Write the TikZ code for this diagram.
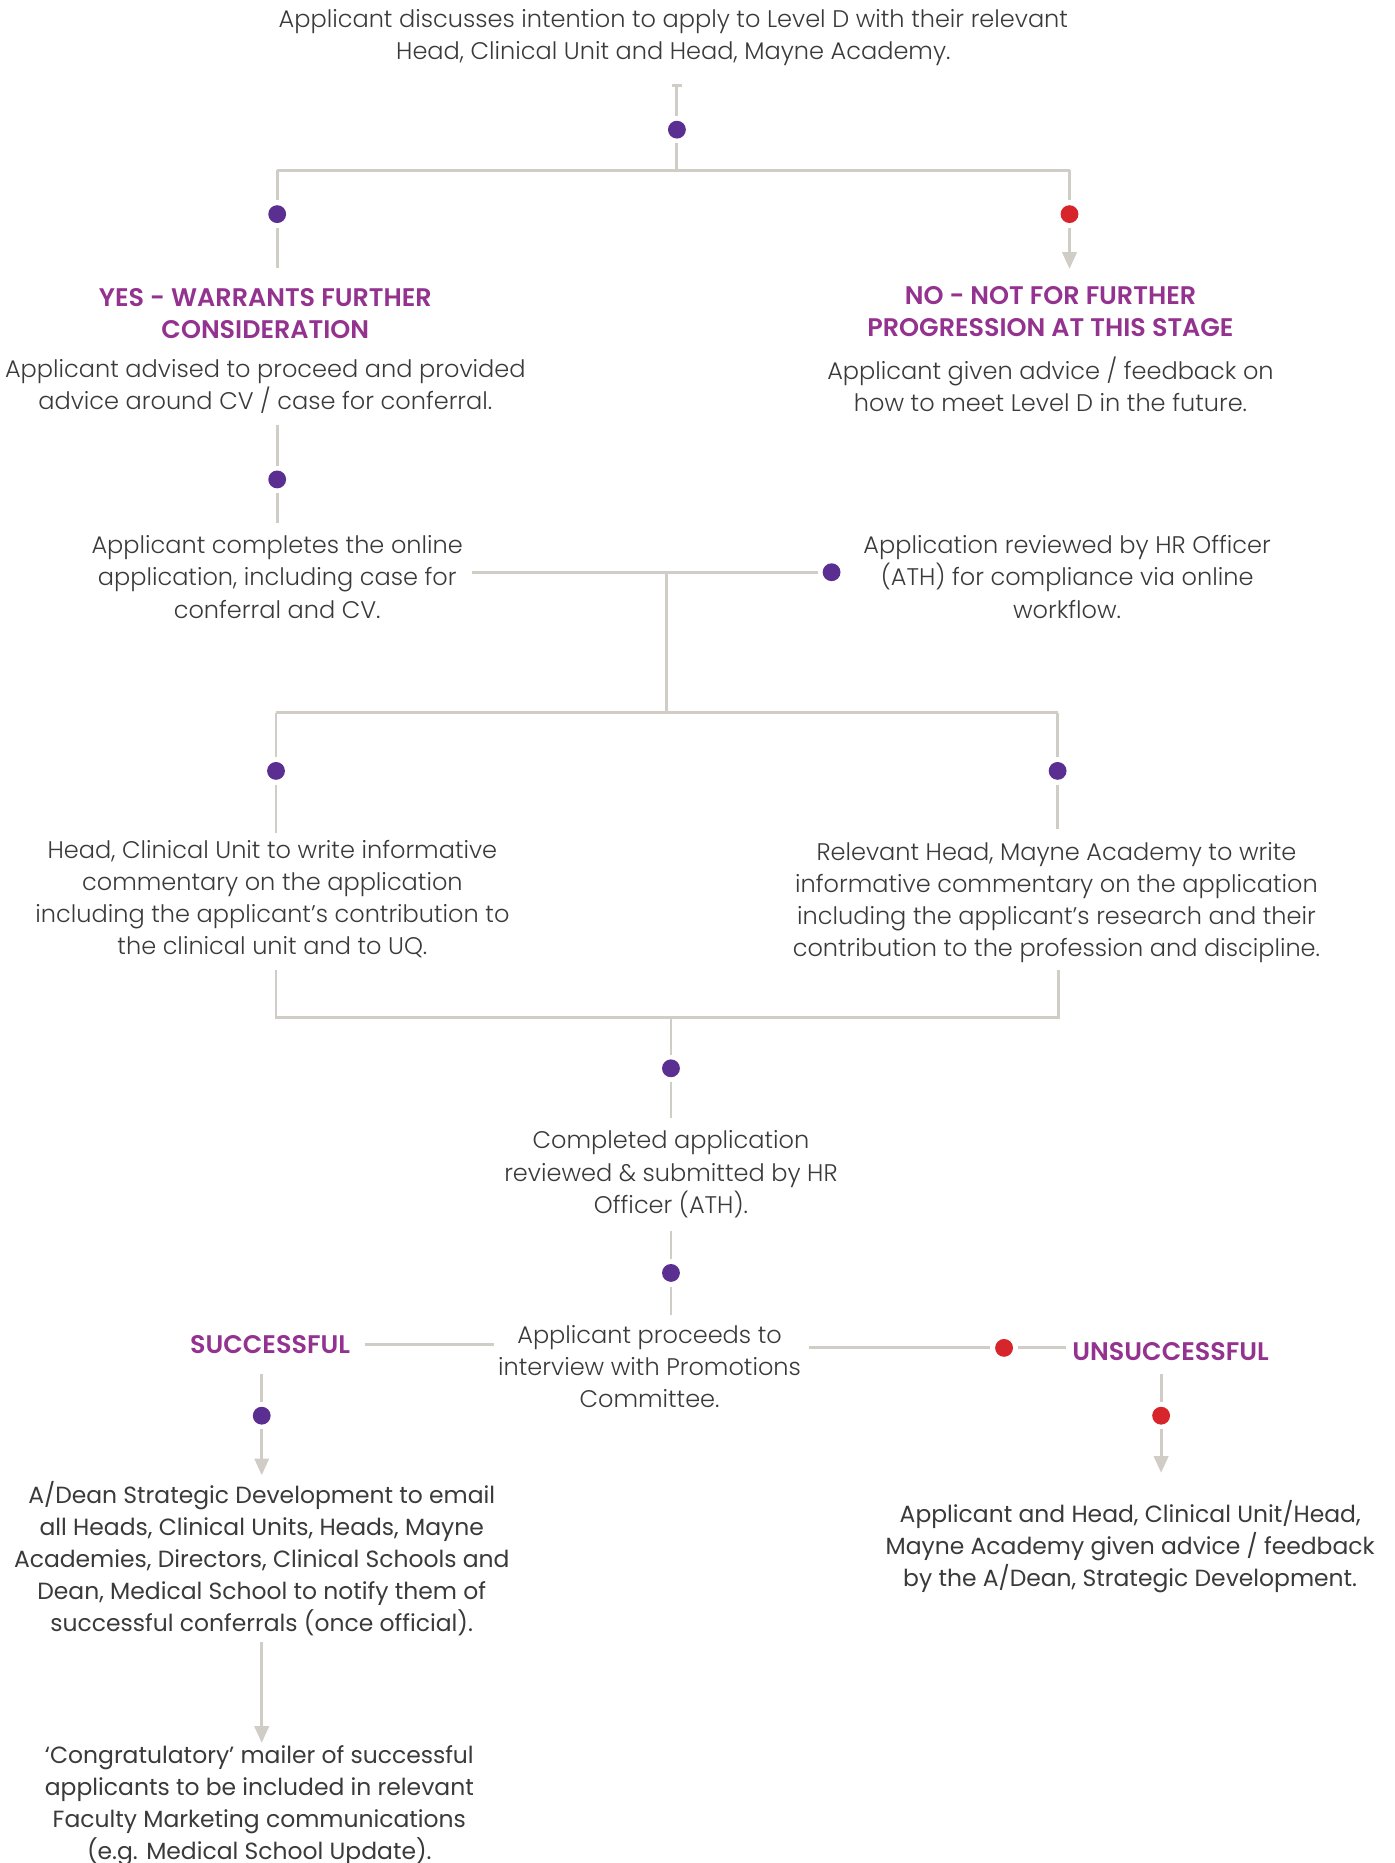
\documentclass[tikz,border=0pt]{standalone}
\usepackage{fontspec}
\setmainfont{Poppins Light}
\newfontfamily\headfont{Poppins SemiBold}
\newfontfamily\bookfont{Poppins}
\usetikzlibrary{arrows.meta}
\definecolor{linegray}{HTML}{D0CCC6}
\definecolor{dotpurple}{HTML}{5B2E91}
\definecolor{dotred}{HTML}{D7252C}
\definecolor{headpurple}{HTML}{93328F}
\definecolor{textgray}{HTML}{3A3A3A}
\begin{document}
\begin{tikzpicture}[x=0.5pt,y=-0.5pt,
  conn/.style={draw=linegray, line width=1.2pt},
  arr/.style={conn, -{Triangle[width=6pt,length=7pt]}},
  pdot/.style={circle, fill=dotpurple, inner sep=0pt, minimum size=7.5pt, outer sep=2pt},
  rdot/.style={circle, fill=dotred, inner sep=0pt, minimum size=7.5pt, outer sep=2pt},
  body/.style={font=\fontsize{10.1}{13.5}\selectfont, text=textgray, align=center, inner sep=0pt},
  bodybook/.style={font=\bookfont\fontsize{9.85}{13.5}\selectfont, text=textgray, align=center, inner sep=0pt},
  head/.style={font=\headfont\fontsize{10.7}{13.5}\selectfont, text=headpurple, align=center, inner sep=0pt}]
\useasboundingbox (0,0) rectangle (1172,1566);

% ---- text nodes
\node[body] (top) at (566,31.5) {Applicant discusses intention to apply to Level D with their relevant\\Head, Clinical Unit and Head, Mayne Academy.};
\node[head] (yeshead) at (223,263.5) {YES - WARRANTS FURTHER\\CONSIDERATION};
\node[body] (yesbody) at (223,324.5) {Applicant advised to proceed and provided\\advice around CV / case for conferral.};
\node[head] (nohead) at (883,262) {NO - NOT FOR FURTHER\\PROGRESSION AT THIS STAGE};
\node[body] (nobody) at (883,323) {Applicant given advice / feedback on\\how to meet Level D in the future.};
\node[body] (complete) at (233,485) {Applicant completes the online\\application, including case for\\conferral and CV.};
\node[body] (hr) at (897,485) {Application reviewed by HR Officer\\(ATH) for compliance via online\\workflow.};
\node[body] (hc) at (229,755.5) {Head, Clinical Unit to write informative\\commentary on the application\\including the applicant’s contribution to\\the clinical unit and to UQ.};
\node[body] (ma) at (888,758.5) {Relevant Head, Mayne Academy to write\\informative commentary on the application\\including the applicant’s research and their\\contribution to the profession and discipline.};
\node[body] (compl) at (564,987) {Completed application\\reviewed \& submitted by HR\\Officer (ATH).};
\node[body] (interview) at (546,1149) {Applicant proceeds to\\interview with Promotions\\Committee.};
\node[head] (succ) at (227,1130) {SUCCESSFUL};
\node[head] (unsucc) at (984,1136) {UNSUCCESSFUL};
\node[bodybook] (adean) at (220,1310) {A/Dean Strategic Development to email\\all Heads, Clinical Units, Heads, Mayne\\Academies, Directors, Clinical Schools and\\Dean, Medical School to notify them of\\successful conferrals (once official).};
\node[bodybook] (congrat) at (218,1518) {‘Congratulatory’ mailer of successful\\applicants to be included in relevant\\Faculty Marketing communications\\(e.g. Medical School Update).};
\node[bodybook] (unsbody) at (950,1300) {Applicant and Head, Clinical Unit/Head,\\Mayne Academy given advice / feedback\\by the A/Dean, Strategic Development.};

% ---- dots
\node[pdot] (d0) at (569,109) {};
\node[pdot] (dyes) at (233,180) {};
\node[rdot] (dno) at (899,180) {};
\node[pdot] (d2) at (233,403) {};
\node[pdot] (dhr) at (699,481) {};
\node[pdot] (dhc) at (232,648) {};
\node[pdot] (dma) at (889,648) {};
\node[pdot] (d5) at (564,898) {};
\node[pdot] (d6) at (564,1070) {};
\node[rdot] (d8) at (844,1133) {};
\node[pdot] (d9) at (220,1190) {};
\node[rdot] (d11) at (976,1190) {};

% ---- coordinates
\coordinate (t0) at (569,72);
\coordinate (t0l) at (565,72);
\coordinate (t0r) at (573,72);
\coordinate (j0) at (569,143);
\coordinate (jL) at (233,143);
\coordinate (jR) at (899,143);
\coordinate (cyes) at (233,225);
\coordinate (ano) at (899,226);
\coordinate (c2a) at (233,357);
\coordinate (c2b) at (233,440);
\coordinate (c3a) at (397,481);
\coordinate (j3) at (560,481);
\coordinate (j4) at (560,599);
\coordinate (j4L) at (232,599);
\coordinate (j4R) at (889,599);
\coordinate (c4L) at (232,700);
\coordinate (c4R) at (889,697);
\coordinate (c5L) at (232,815);
\coordinate (j5L) at (232,855);
\coordinate (j5R) at (890,855);
\coordinate (c5R) at (890,815);
\coordinate (j5) at (564,855);
\coordinate (c5b) at (564,940);
\coordinate (c6a) at (564,1035);
\coordinate (c6b) at (564,1105);
\coordinate (c7a) at (307,1130);
\coordinate (c7b) at (415,1130);
\coordinate (c8a) at (680,1133);
\coordinate (c8b) at (896,1133);
\coordinate (c9a) at (220,1155);
\coordinate (c9b) at (220,1240);
\coordinate (c10a) at (220,1380);
\coordinate (c10b) at (220,1465);
\coordinate (c11a) at (976,1155);
\coordinate (c11b) at (976,1238);

% ---- connectors
\draw[conn] (t0l) -- (t0r);
\draw[conn] (t0) -- (d0);
\draw[conn] (d0) -- (j0);
\draw[conn] (jL) -- (jR);
\draw[conn] (jL) -- (dyes);
\draw[conn] (dyes) -- (cyes);
\draw[conn] (jR) -- (dno);
\draw[arr] (dno) -- (ano);
\draw[conn] (c2a) -- (d2);
\draw[conn] (d2) -- (c2b);
\draw[conn] (c3a) -- (dhr);
\draw[conn] (j3) -- (j4);
\draw[conn] (j4L) -- (j4R);
\draw[conn] (j4L) -- (dhc);
\draw[conn] (dhc) -- (c4L);
\draw[conn] (j4R) -- (dma);
\draw[conn] (dma) -- (c4R);
\draw[conn] (c5L) -- (j5L) -- (j5R) -- (c5R);
\draw[conn] (j5) -- (d5);
\draw[conn] (d5) -- (c5b);
\draw[conn] (c6a) -- (d6);
\draw[conn] (d6) -- (c6b);
\draw[conn] (c7a) -- (c7b);
\draw[conn] (c8a) -- (d8);
\draw[conn] (d8) -- (c8b);
\draw[conn] (c9a) -- (d9);
\draw[arr] (d9) -- (c9b);
\draw[arr] (c10a) -- (c10b);
\draw[conn] (c11a) -- (d11);
\draw[arr] (d11) -- (c11b);
\end{tikzpicture}
\end{document}
